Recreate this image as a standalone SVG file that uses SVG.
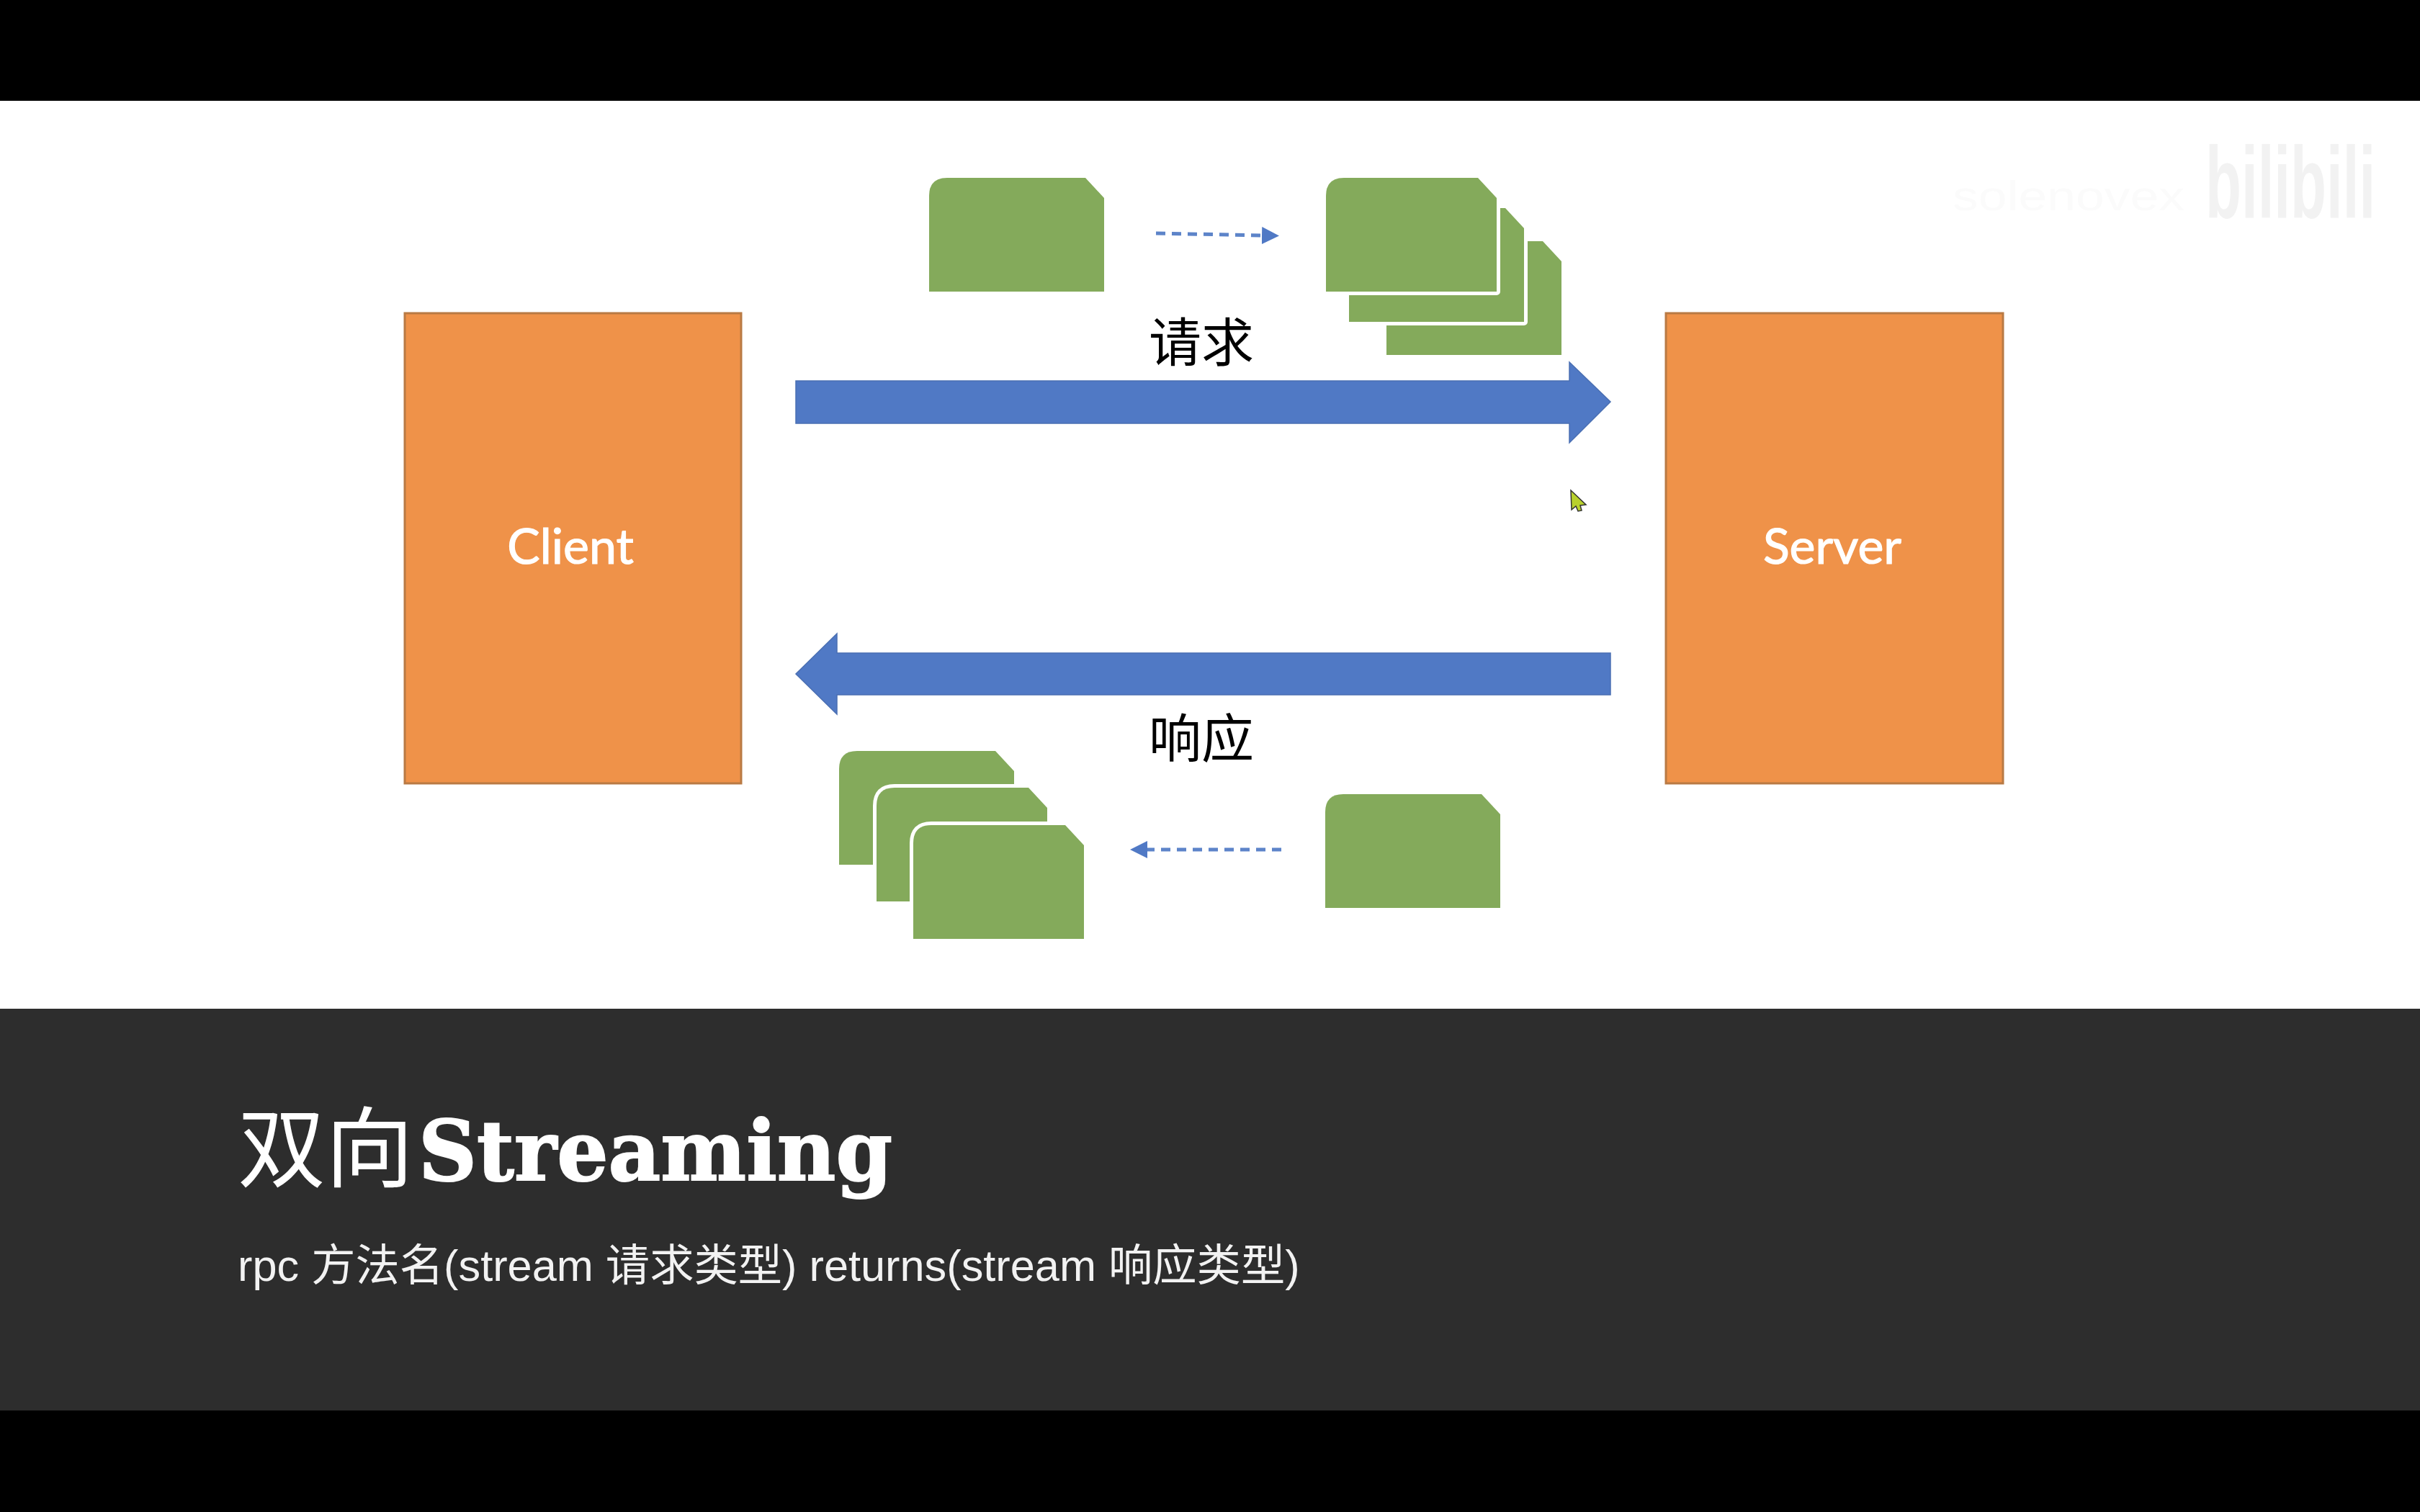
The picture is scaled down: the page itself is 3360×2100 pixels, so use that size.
<svg xmlns="http://www.w3.org/2000/svg" width="3360" height="2100" viewBox="0 0 3360 2100">
  <style>
    .box{fill:#ef9249;stroke:#b97a44;stroke-width:3}
    .card{fill:#84aa5b}
    .outlined{stroke:#fff;stroke-width:10;paint-order:stroke;stroke-linejoin:round}
    .big{fill:#5079c5;stroke:#4a6fb2;stroke-width:1.5}
    .dash{fill:none;stroke:#5d84c9;stroke-width:5;stroke-dasharray:13 9}
    .node{font-family:"Lato","Open Sans",sans-serif;font-size:68px;fill:#fff;stroke:#fff;stroke-width:1.2;text-anchor:middle}
    .lbl{font-family:"Noto Sans CJK SC",sans-serif;font-size:73px;fill:#000;text-anchor:middle}
  </style>
  <defs>
    <path id="card" d="M25 0H217L243 28V158H0V25Q0 0 25 0Z"/>
    <path id="cardn" d="M25 0H211L237 28V158H0V25Q0 0 25 0Z"/>
    <marker id="head" viewBox="0 0 24 24" refX="0" refY="12" markerUnits="userSpaceOnUse" markerWidth="24" markerHeight="24" orient="auto">
      <path d="M0 0L24 12L0 24Z" fill="#5079c5"/>
    </marker>
  </defs>

  <rect width="3360" height="2100" fill="#000"/>
  <rect y="140" width="3360" height="1261" fill="#fff"/>
  <rect y="1401" width="3360" height="558" fill="#2d2d2d"/>

  <g id="watermark">
    <text x="2711" y="292" font-family="'Liberation Sans',sans-serif" font-size="58" fill="#fbfbfb" textLength="322" lengthAdjust="spacingAndGlyphs">solenovex</text>
    <text transform="translate(3062,302) scale(1.09,1.88)" font-family="'Liberation Sans',sans-serif" font-weight="700" font-size="75" fill="#f2f2f2">bilibili</text>
  </g>

  <g id="client">
    <rect class="box" x="562" y="435" width="467" height="653"/>
    <text class="node" x="792" y="783">Client</text>
  </g>
  <g id="server">
    <rect class="box" x="2313" y="435" width="468" height="653"/>
    <text class="node" x="2544" y="783">Server</text>
  </g>

  <g id="connectors">
    <polygon class="big" points="1105,529 2179,529 2179,503 2236,558 2179,615 2179,588 1105,588"/>
    <polygon class="big" points="2236,907 1162,907 1162,880 1105,936 1162,992 1162,965 2236,965"/>
    <line class="dash" x1="1605" y1="324" x2="1752" y2="327" marker-end="url(#head)"/>
    <line class="dash" x1="1779" y1="1180" x2="1593" y2="1180" marker-end="url(#head)"/>
  </g>

  <g id="label-request"><text class="lbl" x="1668" y="502">请求</text></g>
  <g id="label-response"><text class="lbl" x="1668" y="1052">响应</text></g>

  <g id="request-single"><use class="card" href="#card" x="1290" y="247"/></g>
  <g id="request-stack">
    <use class="card" href="#card" x="1925" y="335"/>
    <use class="card outlined" href="#card" x="1873" y="289"/>
    <use class="card outlined" href="#cardn" x="1841" y="247"/>
  </g>
  <g id="response-single"><use class="card" href="#card" x="1840" y="1103"/></g>
  <g id="response-stack">
    <use class="card" href="#card" x="1165" y="1043"/>
    <use class="card outlined" href="#cardn" x="1217" y="1094"/>
    <use class="card outlined" href="#cardn" x="1268" y="1146"/>
  </g>

  <g id="cursor">
    <polygon points="2181,681 2202,701 2194,702 2196,709 2191,710 2188,703 2182,708" fill="#b8d02c" stroke="#333" stroke-width="1.5"/>
  </g>

  <g id="caption">
    <text x="330" y="1639" fill="#fff"><tspan font-family="'Noto Sans CJK SC',sans-serif" font-size="122">双向</tspan><tspan x="581" font-family="'DejaVu Serif',serif" font-weight="700" font-size="116" stroke="#fff" stroke-width="2" textLength="658" lengthAdjust="spacingAndGlyphs">Streaming</tspan></text>
    <text x="330" y="1779" fill="#f2f2f2" font-family="'Liberation Sans','Noto Sans CJK SC',sans-serif" font-size="61.3">rpc 方法名(stream 请求类型) returns(stream 响应类型)</text>
  </g>
</svg>
